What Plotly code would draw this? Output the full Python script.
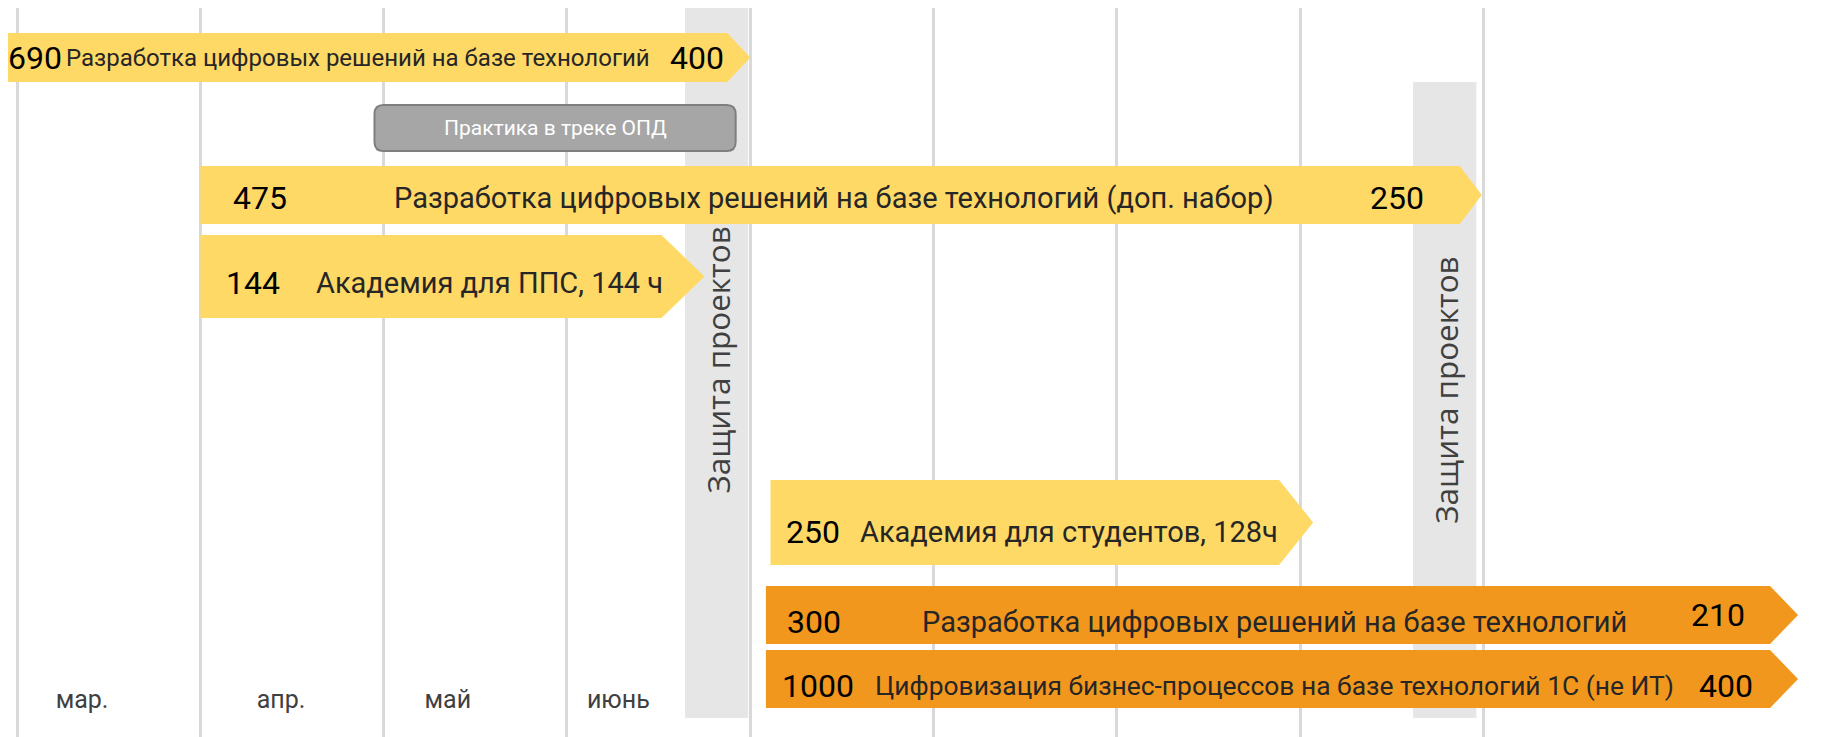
import plotly.graph_objects as go

# ---------------- data ----------------
months = ["мар.", "апр.", "май", "июнь"]
month_pos = [0.355, 1.44, 2.35, 3.28]

programs = [
    "Разработка цифровых решений на базе технологий",
    "Разработка цифровых решений на базе технологий (доп. набор)",
    "Академия для ППС, 144 ч",
    "Академия для студентов, 128ч",
    "Разработка цифровых решений на базе технологий",
    "Цифровизация бизнес-процессов на базе технологий 1С (не ИТ)",
]
left_values = [690, 475, 144, 250, 300, 1000]
right_values = [400, 250, None, None, 210, 400]
starts = [-0.093, 1.0, 1.0, 4.11, 4.085, 4.085]
ends = [4.0, 7.99, 3.75, 7.07, 9.715, 9.715]
kinds = ["main", "main", "main", "main", "orange", "orange"]

practice_label = "Практика в треке ОПД"
practice_start, practice_end = 1.95, 3.92

defense_label = "Защита проектов"
defense_starts = [3.644, 7.615]
defense_ends = [3.988, 7.96]

# ---------------- layout / styles ----------------
PX = 183.33  # pixels per month
OFF = 8      # page body margin
row_top = [33, 166, 235, 480, 586, 650]
row_bot = [82, 224, 318, 565, 644, 708]
arrow_px = [23, 22, 43, 34, 28, 28]
left_num_x = [0.098, 1.325, 1.287, 4.34, 4.35, 4.37]
text_x = [1.86, 4.457, 2.58, 5.74, 6.86, 6.86]
right_num_x = [3.71, 7.53, None, None, 9.28, 9.32]
text_size = [24, 29, 29, 29, 29, 26.4]
num_dy = [0, 3, 6, 9, 7, 7]
colors = {"main": "#FFD966", "orange": "#F2971E"}

FONT = "Roboto"
NUM_SIZE = 32

fig = go.Figure()

# month labels
fig.add_trace(go.Scatter(
    x=month_pos, y=[702] * len(months), mode="text", text=months,
    textfont=dict(family=FONT, size=25, color="#404040"),
    hoverinfo="skip", showlegend=False))

# defense bands
band_tops = [8, 82]
for s, e, t in zip(defense_starts, defense_ends, band_tops):
    fig.add_trace(go.Scatter(
        x=[s, e, e, s, s], y=[t, t, 718, 718, t], mode="lines",
        fill="toself", fillcolor="#E6E6E6", line=dict(width=0),
        hoverinfo="skip", showlegend=False))

# program arrows
for i in range(len(programs)):
    s, e = starts[i], ends[i]
    b = e - arrow_px[i] / PX
    t, bt = row_top[i], row_bot[i]
    c = (t + bt) / 2
    fig.add_trace(go.Scatter(
        x=[s, b, e, b, s, s], y=[t, t, c, bt, bt, t], mode="lines",
        fill="toself", fillcolor=colors[kinds[i]], line=dict(width=0),
        hoverinfo="skip", showlegend=False))

annotations = []
for i in range(len(programs)):
    c = (row_top[i] + row_bot[i]) / 2 + num_dy[i]
    annotations.append(dict(x=left_num_x[i], y=c, text=str(left_values[i]),
                            showarrow=False, font=dict(family=FONT, size=NUM_SIZE, color="#000000")))
    annotations.append(dict(x=text_x[i], y=c, text=programs[i], showarrow=False,
                            font=dict(family=FONT, size=text_size[i], color="#262626")))
    if right_values[i] is not None:
        annotations.append(dict(x=right_num_x[i], y=c - (7 if i == 4 else 0),
                                text=str(right_values[i]), showarrow=False,
                                font=dict(family=FONT, size=NUM_SIZE, color="#000000")))

annotations.append(dict(x=(practice_start + practice_end) / 2, y=128, text=practice_label,
                        showarrow=False, font=dict(family=FONT, size=21, color="#FFFFFF")))
for s, e, yc in zip(defense_starts, defense_ends, [360, 390]):
    annotations.append(dict(x=(s + e) / 2, y=yc, text=defense_label, textangle=-90,
                            showarrow=False, font=dict(family="Open Sans", size=31.4, color="#404040")))

# practice box (rounded rectangle)
r = 9 / PX
ry = 9
x0, x1, y0, y1 = practice_start, practice_end, 105, 151
path = (f"M {x0 + r},{y0} L {x1 - r},{y0} Q {x1},{y0} {x1},{y0 + ry} "
        f"L {x1},{y1 - ry} Q {x1},{y1} {x1 - r},{y1} L {x0 + r},{y1} "
        f"Q {x0},{y1} {x0},{y1 - ry} L {x0},{y0 + ry} Q {x0},{y0} {x0 + r},{y0} Z")

fig.update_layout(
    width=1845 - OFF, height=737 - OFF,
    margin=dict(l=0, r=0, t=0, b=0),
    paper_bgcolor="white", plot_bgcolor="white",
    showlegend=False,
    xaxis=dict(range=[(OFF - 17) / PX, (1845 - 17) / PX], tickmode="array",
               tickvals=list(range(9)), showticklabels=False, showgrid=True,
               gridcolor="#D9D9D9", gridwidth=3, zeroline=False, showline=False,
               fixedrange=True),
    yaxis=dict(range=[737, OFF], showgrid=False, showticklabels=False,
               zeroline=False, showline=False, fixedrange=True),
    annotations=annotations,
    shapes=[dict(type="path", path=path, xref="x", yref="y", fillcolor="#A6A6A6",
                 line=dict(color="#7F7F7F", width=2), layer="above")],
)

fig.write_html("out.html")
